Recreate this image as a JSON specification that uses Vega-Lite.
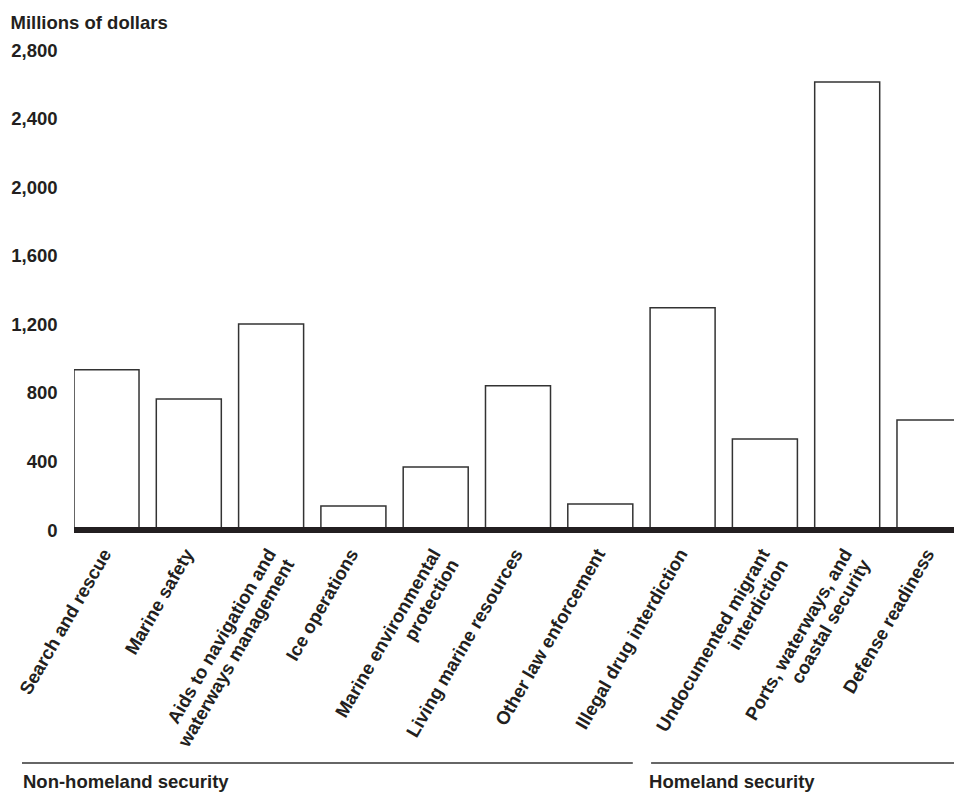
{
  "$schema": "https://vega.github.io/schema/vega-lite/v6.json",
  "autosize": {"type": "pad"},
  "padding": {"left": 10, "top": 13, "right": 0, "bottom": 0},
  "bounds": "flush",
  "spacing": 232,
  "config": {
    "font": "Liberation Sans",
    "view": {"stroke": null}
  },
  "datasets": {
    "bars": [
      {"category": "Search and rescue", "value": 935},
      {"category": "Marine safety", "value": 764},
      {"category": "Aids to navigation and waterways management", "value": 1202},
      {"category": "Ice operations", "value": 140},
      {"category": "Marine environmental protection", "value": 368},
      {"category": "Living marine resources", "value": 842},
      {"category": "Other law enforcement", "value": 152},
      {"category": "Illegal drug interdiction", "value": 1296},
      {"category": "Undocumented migrant interdiction", "value": 531},
      {"category": "Ports, waterways, and coastal security", "value": 2614},
      {"category": "Defense readiness", "value": 642}
    ],
    "groups": [
      {"group": "Non-homeland security", "start": "Search and rescue", "end": "Other law enforcement"},
      {"group": "Homeland security", "start": "Illegal drug interdiction", "end": "Defense readiness"}
    ]
  },
  "vconcat": [
    {
      "width": 880,
      "height": 480,
      "data": {"name": "bars"},
      "layer": [
        {
          "mark": {"type": "bar", "fill": "white", "stroke": "#333333", "strokeWidth": 1.5, "clip": true},
          "encoding": {
            "x": {
              "field": "category",
              "type": "nominal",
              "sort": null,
              "scale": {
                "domain": ["Search and rescue", "Marine safety", "Aids to navigation and waterways management", "Ice operations", "Marine environmental protection", "Living marine resources", "Other law enforcement", "Illegal drug interdiction", "Undocumented migrant interdiction", "Ports, waterways, and coastal security", "Defense readiness"],
                "range": [0, 888],
                "paddingInner": 0.21,
                "paddingOuter": 0
              },
              "axis": {
                "title": null,
                "domain": false,
                "ticks": false,
                "labelAngle": -60,
                "labelAlign": "right",
                "labelBaseline": "alphabetic",
                "labelPadding": 23,
                "labelOffset": 5.5,
                "labelFontSize": 18.5,
                "labelFontWeight": "bold",
                "labelColor": "#231f20",
                "labelLimit": 0,
                "labelOverlap": false,
                "labelLineHeight": 21,
                "labelExpr": "datum.value === 'Aids to navigation and waterways management' ? ['Aids to navigation and', 'waterways management'] : datum.value === 'Marine environmental protection' ? ['Marine environmental', 'protection'] : datum.value === 'Undocumented migrant interdiction' ? ['Undocumented migrant', 'interdiction'] : datum.value === 'Ports, waterways, and coastal security' ? ['Ports, waterways, and', 'coastal security'] : datum.value"
              }
            },
            "y": {
              "field": "value",
              "type": "quantitative",
              "scale": {"domain": [0, 2800], "nice": false},
              "axis": {
                "values": [0, 400, 800, 1200, 1600, 2000, 2400, 2800],
                "format": ",.0f",
                "domain": false,
                "ticks": false,
                "grid": false,
                "labelPadding": 17,
                "labelFontSize": 18.5,
                "labelFontWeight": "bold",
                "labelColor": "#231f20",
                "labelBaseline": "middle",
                "title": "Millions of dollars",
                "titleAngle": 0,
                "titleAlign": "left",
                "titleBaseline": "top",
                "titleX": -64,
                "titleY": -37,
                "titleFontSize": 18.5,
                "titleFontWeight": "bold",
                "titleColor": "#231f20"
              }
            }
          }
        },
        {
          "mark": {"type": "rule", "color": "#231f20", "strokeWidth": 5},
          "encoding": {"y": {"datum": 0}}
        }
      ]
    },
    {
      "width": 880,
      "height": 2,
      "data": {"name": "groups"},
      "encoding": {
        "x": {
          "field": "start",
          "type": "nominal",
          "bandPosition": 0,
          "scale": {
            "domain": ["Search and rescue", "Marine safety", "Aids to navigation and waterways management", "Ice operations", "Marine environmental protection", "Living marine resources", "Other law enforcement", "Illegal drug interdiction", "Undocumented migrant interdiction", "Ports, waterways, and coastal security", "Defense readiness"],
            "range": [0, 888],
            "paddingInner": 0.21,
            "paddingOuter": 0
          },
          "axis": null
        }
      },
      "layer": [
        {
          "transform": [{"filter": "datum.group === 'Non-homeland security'"}],
          "mark": {"type": "rule", "stroke": "#333333", "strokeWidth": 1.5, "xOffset": -52},
          "encoding": {"x2": {"field": "end", "bandPosition": 1}}
        },
        {
          "transform": [{"filter": "datum.group === 'Homeland security'"}],
          "mark": {"type": "rule", "stroke": "#333333", "strokeWidth": 1.5, "xOffset": 1, "clip": true},
          "encoding": {"x2": {"field": "end", "bandPosition": 1}}
        },
        {
          "transform": [{"filter": "datum.group === 'Non-homeland security'"}],
          "mark": {"type": "text", "align": "left", "baseline": "alphabetic", "dy": 25, "xOffset": -51, "fontSize": 18.5, "fontWeight": "bold", "color": "#231f20"},
          "encoding": {"text": {"field": "group"}}
        },
        {
          "transform": [{"filter": "datum.group === 'Homeland security'"}],
          "mark": {"type": "text", "align": "left", "baseline": "alphabetic", "dy": 25, "xOffset": -1, "fontSize": 18.5, "fontWeight": "bold", "color": "#231f20"},
          "encoding": {"text": {"field": "group"}}
        }
      ]
    }
  ]
}
